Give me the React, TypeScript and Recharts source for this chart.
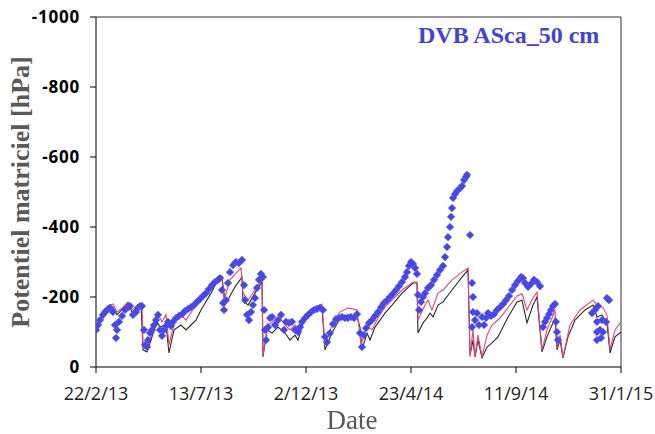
import { ComposedChart, Line, Scatter, XAxis, YAxis, ReferenceLine } from "recharts"

// x axis = days since 22/2/13
const xTicks = [0, 141.6, 283.2, 424.8, 566.4, 708]
const xTickLabels = ["22/2/13", "13/7/13", "2/12/13", "23/4/14", "11/9/14", "31/1/15"]
const yTicks = [0, -200, -400, -600, -800, -1000]

// simulation 1 (black)
const simADays = [0, 17.5, 22.9, 28.3, 43.2, 48.5, 60.7, 63.4, 68.8, 82.3, 86.3, 94.4, 98.4, 105.2, 114.6, 121.4, 128.1, 134.9, 141.6, 155.1, 165.9, 169.9, 172.6, 174, 187.5, 194.2, 196.9, 198.2, 205, 214.4, 223.9, 225.2, 230.6, 237.4, 245.4, 254.9, 261.6, 268.4, 272.4, 281.9, 292.6, 304.8, 308.8, 318.3, 329, 339.8, 352, 356, 358.7, 365.5, 369.5, 376.3, 389.7, 399.2, 412.7, 427.5, 432.9, 434.2, 441, 446.4, 450.4, 454.5, 461.2, 468, 480.1, 493.6, 501.7, 504.4, 508.4, 511.1, 515.2, 520.6, 527.3, 534, 542.1, 555, 567.7, 574.5, 581.2, 589.3, 594.7, 601.5, 608.2, 615, 619, 621.7, 625.8, 629.8, 636.5, 646, 659.5, 670.3, 675.6, 682.4, 689.1, 693.2, 699.9, 708]
const simAVals = [-106, -169, -172, -149, -183, -157, -180, -49, -43, -129, -115, -120, -40, -106, -120, -106, -120, -134, -163, -211, -254, -257, -211, -177, -229, -249, -257, -191, -177, -211, -243, -29, -106, -97, -114, -97, -77, -91, -77, -143, -157, -169, -49, -97, -140, -149, -143, -114, -49, -97, -77, -114, -154, -177, -211, -240, -240, -97, -126, -140, -154, -143, -177, -186, -220, -257, -277, -34, -77, -29, -77, -26, -57, -69, -86, -140, -186, -191, -126, -177, -200, -43, -86, -120, -140, -49, -77, -26, -86, -134, -163, -177, -143, -149, -126, -40, -86, -100]

// simulation 2 (pink)
const simBDays = [0, 12.1, 18.9, 22.9, 28.3, 35.1, 43.2, 48.5, 56.6, 62, 63.4, 68.8, 76.9, 83.6, 89, 94.4, 98.4, 106.5, 114.6, 121.4, 134.9, 141.6, 155.1, 165.9, 169.9, 172.6, 180.7, 190.1, 195.5, 198.2, 205, 214.4, 223.9, 225.2, 232, 241.4, 248.1, 254.9, 261.6, 268.4, 275.1, 281.9, 292.6, 304.8, 308.8, 318.3, 329, 339.8, 352, 357.4, 365.5, 372.2, 380.3, 389.7, 399.2, 412.7, 427.5, 432.9, 434.2, 443.7, 447.7, 453.1, 461.2, 468, 480.1, 493.6, 501.7, 504.4, 508.4, 511.1, 515.2, 520.6, 527.3, 534, 544.8, 558.3, 567.7, 574.5, 581.2, 589.3, 594.7, 601.5, 608.2, 615, 619, 621.7, 625.8, 629.8, 639.2, 652.7, 670.3, 675.6, 683.7, 689.1, 693.2, 699.9, 708]
const simBVals = [-111, -163, -177, -180, -157, -169, -186, -163, -177, -183, -63, -54, -106, -149, -129, -149, -63, -134, -149, -134, -177, -191, -220, -249, -254, -191, -249, -271, -283, -211, -191, -220, -249, -34, -120, -134, -140, -120, -106, -120, -106, -149, -169, -180, -63, -120, -157, -169, -163, -63, -120, -106, -140, -171, -191, -220, -243, -243, -134, -177, -191, -163, -211, -220, -249, -271, -283, -29, -106, -29, -91, -29, -91, -120, -140, -177, -203, -209, -163, -197, -214, -49, -106, -140, -163, -54, -91, -29, -120, -163, -191, -177, -169, -149, -49, -106, -129]

// observations (blue)
const obsDays = [0, 2.7, 5.4, 9.4, 12.1, 16.2, 18.9, 22.9, 25.6, 27, 28.3, 31, 35.1, 39.1, 43.2, 45.9, 49.9, 53.9, 56.6, 59.3, 62, 64.7, 66.1, 68.8, 70.1, 72.8, 75.5, 78.2, 80.9, 83.6, 86.3, 89, 91.7, 94.4, 97.1, 101.1, 103.8, 107.9, 111.9, 116, 120, 124.1, 128.1, 132.2, 136.2, 140.3, 144.3, 148.3, 152.4, 156.4, 160.5, 164.5, 167.2, 169.9, 171.3, 172.6, 175.3, 178, 180.7, 184.8, 188.8, 192.8, 196.9, 199.6, 200.9, 203.6, 206.3, 209, 211.7, 214.4, 217.1, 219.8, 222.5, 225.2, 226.6, 227.9, 229.3, 232, 234.7, 237.4, 241.4, 245.4, 249.5, 253.5, 256.2, 260.3, 264.3, 268.4, 272.4, 275.1, 277.8, 281.9, 285.9, 290, 294, 298, 302.1, 306.1, 308.8, 311.5, 315.5, 319.6, 323.7, 327.7, 331.7, 335.8, 339.8, 343.9, 347.9, 352, 356, 358.7, 361.4, 364.1, 368.2, 372.2, 376.3, 380.3, 384.4, 388.4, 392.5, 396.5, 400.5, 404.6, 408.6, 412.7, 416.7, 419.4, 422.1, 424.8, 427.5, 430.2, 432.9, 434.2, 435.6, 438.3, 441, 443.7, 447.7, 451.8, 455.8, 459.9, 463.9, 468, 470.7, 473.4, 474.7, 477.4, 478.8, 480.1, 481.5, 484.2, 486.9, 491, 493.6, 496.3, 499, 500.4, 504.4, 507.1, 508.4, 508.4, 507.1, 511.1, 513.8, 516.5, 520.6, 523.3, 526, 528.7, 532.7, 536.7, 540.8, 544.8, 548.9, 552.9, 557, 561, 565.1, 569.1, 573.2, 575.9, 578.6, 582.6, 586.6, 590.7, 594.7, 598.8, 602.8, 605.5, 608.2, 610.9, 613.6, 616.3, 619, 620.3, 621.7, 623, 668.9, 672.9, 677, 675.6, 675.6, 675.6, 679.7, 682.4, 683.7, 681, 687.8, 689.1, 691.8]
const obsVals = [-106, -120, -134, -149, -157, -166, -169, -157, -120, -83, -106, -129, -146, -163, -171, -174, -149, -157, -169, -174, -174, -106, -63, -57, -77, -97, -106, -120, -134, -149, -106, -89, -106, -117, -129, -117, -129, -140, -146, -151, -160, -166, -171, -177, -186, -194, -203, -211, -223, -234, -243, -249, -254, -220, -183, -163, -191, -240, -271, -291, -300, -297, -306, -234, -191, -149, -134, -157, -177, -197, -226, -249, -266, -257, -163, -106, -77, -114, -140, -143, -120, -134, -149, -106, -129, -126, -129, -106, -100, -114, -129, -140, -149, -157, -163, -166, -169, -163, -86, -71, -97, -123, -137, -140, -143, -140, -140, -143, -140, -151, -97, -57, -91, -111, -126, -134, -146, -157, -171, -183, -191, -200, -209, -220, -231, -243, -257, -271, -289, -300, -294, -283, -266, -206, -163, -186, -200, -211, -226, -234, -249, -263, -277, -289, -314, -343, -371, -400, -429, -454, -483, -494, -503, -511, -517, -534, -543, -549, -377, -240, -200, -157, -114, -134, -154, -120, -143, -120, -140, -154, -146, -151, -163, -171, -180, -191, -203, -220, -234, -246, -257, -254, -240, -229, -237, -249, -243, -231, -114, -129, -140, -151, -163, -174, -180, -129, -100, -77, -154, -163, -174, -129, -100, -77, -106, -134, -100, -83, -129, -197, -191]

const simA = simADays.map((d, i) => ({ d, v: simAVals[i] }))
const simB = simBDays.map((d, i) => ({ d, v: simBVals[i] }))
const obs = obsDays.map((d, i) => ({ d, v: obsVals[i] }))

const Diamond = (p: any) => {
  const { cx, cy } = p
  if (cx == null || cy == null) return null
  const r = 3.8
  return <path d={`M${cx},${cy - r}L${cx + r},${cy}L${cx},${cy + r}L${cx - r},${cy}Z`} fill="#4646e6" stroke="#5a5af0" strokeWidth={0.6} />
}

export default function App() {
  return (
    <div style={{ position: "fixed", left: 0, top: 0, width: 655, height: 434, background: "#fff" }}>
      <ComposedChart width={655} height={434} margin={{ top: 17, right: 34, left: 26, bottom: 27 }}>
        <XAxis
          type="number"
          dataKey="d"
          domain={[0, 708]}
          ticks={xTicks}
          allowDataOverflow
          tickFormatter={(v: number) => xTickLabels[xTicks.indexOf(v)] ?? ""}
          tick={{ fontSize: 18, fill: "#222", fontFamily: "Open Sans" }}
          tickSize={6}
          tickMargin={14}
          height={40}
          stroke="#000"
        />
        <YAxis
          type="number"
          domain={[-1000, 0]}
          ticks={yTicks}
          reversed
          allowDataOverflow
          tick={{ fontSize: 17, fill: "#000", fontWeight: "bold", fontFamily: "Open Sans", letterSpacing: 0.8 }}
          tickSize={6}
          tickMargin={10}
          width={70}
          stroke="#000"
        />
        <ReferenceLine y={-1000} stroke="#333" />
        <ReferenceLine x={708} stroke="#333" />
        <Line data={simA} dataKey="v" type="linear" stroke="#2a2a2a" strokeWidth={1.1} dot={false} isAnimationActive={false} />
        <Line data={simB} dataKey="v" type="linear" stroke="#e0457a" strokeWidth={1.1} dot={false} isAnimationActive={false} />
        <Scatter data={obs} dataKey="v" shape={Diamond} isAnimationActive={false} />
      </ComposedChart>
      <div style={{ position: "absolute", left: 418, top: 22, fontFamily: "Liberation Serif", fontWeight: "bold", fontSize: 24, color: "#4343d6", whiteSpace: "nowrap" }}>
        DVB ASca_50 cm
      </div>
      <div style={{ position: "absolute", left: 21, top: 192, transform: "translate(-50%, -50%) rotate(-90deg)", fontFamily: "Liberation Serif", fontWeight: "bold", fontSize: 26, color: "#595959", whiteSpace: "nowrap" }}>
        Potentiel matriciel [hPa]
      </div>
      <div style={{ position: "absolute", left: 352, top: 420, transform: "translate(-50%, -50%)", fontFamily: "Liberation Serif", fontSize: 27, color: "#595959", whiteSpace: "nowrap" }}>
        Date
      </div>
    </div>
  )
}
